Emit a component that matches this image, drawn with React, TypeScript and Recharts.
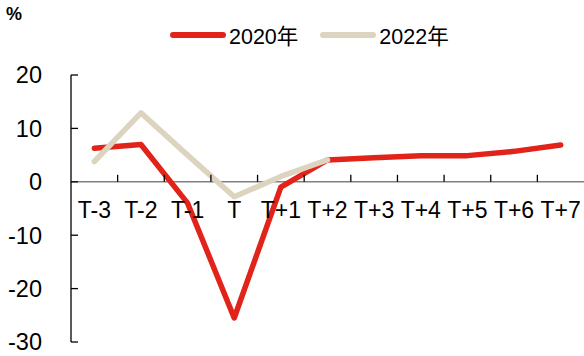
import React from "react";
import { LineChart, Line, XAxis, YAxis, ReferenceLine, ReferenceDot } from "recharts";

const periods = ["T-3", "T-2", "T-1", "T", "T+1", "T+2", "T+3", "T+4", "T+5", "T+6", "T+7"];
const values2020 = [6.3, 7.0, -4.0, -25.5, -1.0, 4.1, 4.5, 4.9, 4.9, 5.7, 6.9];
const values2022 = [3.8, 12.9, 5.0, -2.8, 1.0, 4.1, null, null, null, null, null];
const yTicks = [-30, -20, -10, 0, 10, 20];
const seriesNames = ["2020年", "2022年"];
const seriesColors = ["#E2231A", "#DDD4BF"];

const data = periods.map((p, i) => ({
  i,
  period: p,
  s2020: values2020[i],
  s2022: values2022[i],
}));

// band boundaries between categories, where the small x ticks sit
const boundaries = periods.slice(1).map((_, k) => k + 0.5);

const FONT = '"Liberation Sans", Arial, "Noto Sans CJK SC", sans-serif';

export default function App() {
  return (
    <div style={{ position: "absolute", left: 0, top: 0, width: 584, height: 356, fontFamily: FONT }}>
      <div style={{ position: "absolute", left: 6, top: 4, fontSize: 18, fontWeight: 700 }}>%</div>

      {/* legend */}
      <div style={{ position: "absolute", left: 170, top: 19, display: "flex", alignItems: "center", fontSize: 21.5 }}>
        {seriesNames.map((name, k) => (
          <div key={name} style={{ display: "flex", alignItems: "center", marginRight: k === 0 ? 22 : 0 }}>
            <div style={{ width: 56, height: 6, borderRadius: 3, background: seriesColors[k], marginRight: 3 }} />
            <span>{name}</span>
          </div>
        ))}
      </div>

      <LineChart width={584} height={356} data={data} margin={{ top: 75, right: 0, bottom: 14, left: 0 }}>
        <XAxis dataKey="i" type="number" domain={[-0.5, periods.length - 0.5]} hide />
        <YAxis
          domain={[-30, 20]}
          ticks={yTicks}
          width={71}
          axisLine={{ stroke: "#000", strokeWidth: 1.3 }}
          tickLine={{ stroke: "#000", strokeWidth: 1.3 }}
          tickSize={-7}
          tickMargin={36}
          tick={{ fill: "#000", fontSize: 23.5, fontFamily: FONT }}
          interval={0}
        />
        <ReferenceLine y={0} stroke="#808080" strokeWidth={1.5} />
        {boundaries.map((b) => (
          <ReferenceDot
            key={"t" + b}
            x={b}
            y={0}
            r={0}
            shape={(props: any) => (
              <line x1={props.cx} x2={props.cx} y1={props.cy} y2={props.cy - 7} stroke="#000" strokeWidth={1.3} />
            )}
          />
        ))}
        {periods.map((p, i) => (
          <ReferenceDot
            key={"l" + p}
            x={i}
            y={0}
            r={0}
            shape={(props: any) => (
              <text
                x={props.cx}
                y={props.cy + 28}
                textAnchor="middle"
                dominantBaseline="central"
                fontSize={23}
                fontFamily={FONT}
                fill="#000"
              >
                {p}
              </text>
            )}
          />
        ))}
        <Line
          type="linear"
          dataKey="s2020"
          stroke={seriesColors[0]}
          strokeWidth={5.5}
          strokeLinejoin="round"
          strokeLinecap="round"
          dot={false}
          isAnimationActive={false}
        />
        <Line
          type="linear"
          dataKey="s2022"
          stroke={seriesColors[1]}
          strokeWidth={5.5}
          strokeLinejoin="round"
          strokeLinecap="round"
          dot={false}
          connectNulls={false}
          isAnimationActive={false}
        />
      </LineChart>
    </div>
  );
}
